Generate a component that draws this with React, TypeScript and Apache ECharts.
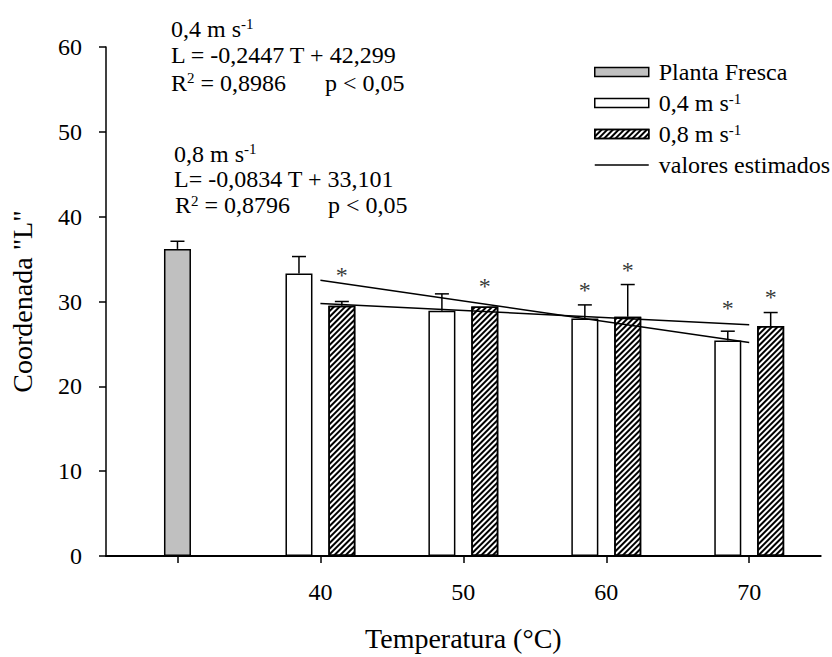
import React, { useEffect, useRef } from 'react';
import * as echarts from 'echarts';

// ---------- data ----------
const temperatures = [40, 50, 60, 70];
const freshTemperature = [30];
const freshValues = [36.2];
const freshErrors = [0.9];
const values04 = [33.3, 28.9, 28.0, 25.4];
const errors04 = [2.0, 2.0, 1.6, 1.1];
const values08 = [29.5, 29.4, 28.2, 27.1];
const errors08 = [0.5, 0, 3.8, 1.6];
const fitTemps = [40, 70];
const fit04 = [32.51, 25.17];
const fit08 = [29.77, 27.26];
const stars04 = [null, null, 31.8, 29.75];
const stars08 = [33.65, 32.3, 34.2, 31.05];
const xTickValues = [30, 40, 50, 60, 70];
const xLabelValues = [40, 50, 60, 70];

const NAME_FRESH = 'Planta Fresca';
const NAME_04 = '0,4 m s-1';
const NAME_08 = '0,8 m s-1';
const NAME_FIT = 'valores estimados';

const FONT = 'Liberation Serif';
const OFFSET = 1.5; // horizontal shift of the two air-speed bars around each temperature

export default function App() {
  const ref = useRef<HTMLDivElement>(null);

  useEffect(() => {
    document.body.style.margin = '0';
    if (!ref.current) return;
    const chart = echarts.init(ref.current, undefined, { renderer: 'svg' });

    const errData: any[] = [];
    freshTemperature.forEach((t, i) => errData.push([t, freshValues[i], freshErrors[i]]));
    temperatures.forEach((t, i) => errData.push([t - OFFSET, values04[i], errors04[i]]));
    temperatures.forEach((t, i) => errData.push([t + OFFSET, values08[i], errors08[i]]));

    const starData: any[] = [];
    temperatures.forEach((t, i) => {
      if (stars04[i] != null) starData.push([t - OFFSET, stars04[i]]);
      if (stars08[i] != null) starData.push([t + OFFSET, stars08[i]]);
    });

    const supRich = {
      supS: { fontSize: 15, lineHeight: 6, verticalAlign: 'top', fontFamily: FONT, color: '#000' },
      supR: { fontSize: 15, lineHeight: 16, verticalAlign: 'top', fontFamily: FONT, color: '#000' },
    };
    const annot = (x: number, y: number, text: string) => ({
      type: 'text',
      x,
      y,
      style: {
        text,
        rich: supRich,
        fontFamily: FONT,
        fontSize: 24,
        lineHeight: 24,
        fill: '#000',
        verticalAlign: 'middle',
        align: 'left',
      },
    });

    const option: any = {
      animation: false,
      backgroundColor: '#fff',
      textStyle: { fontFamily: FONT, color: '#000' },
      grid: { left: 104, right: 11.3, top: 47, bottom: 96.3, containLabel: false },
      legend: {
        orient: 'vertical',
        left: 589,
        top: 55,
        itemWidth: 54,
        itemHeight: 9,
        itemGap: 7,
        selectedMode: false,
        data: [
          { name: NAME_FRESH, icon: 'rect' },
          { name: NAME_04, icon: 'rect' },
          { name: NAME_08, icon: 'rect' },
          { name: NAME_FIT, itemStyle: { color: 'transparent', borderColor: 'transparent', borderWidth: 0, opacity: 0 } },
        ],
        itemStyle: { borderWidth: 1.5, borderColor: '#000' },
        lineStyle: { width: 1.5, color: '#000' },
        formatter: (name: string) => {
          if (name.endsWith(' s-1')) return '{gap|}' + name.slice(0, -2) + '{sup|-1}';
          return '{gap|}' + name;
        },
        textStyle: {
          fontFamily: FONT,
          fontSize: 24,
          lineHeight: 24,
          color: '#000',
          rich: {
            gap: { width: 5 },
            sup: { fontSize: 15, lineHeight: 16, verticalAlign: 'top', fontFamily: FONT, color: '#000' },
          },
        },
      },
      xAxis: {
        type: 'value',
        min: 25,
        max: 75,
        name: 'Temperatura (°C)',
        nameLocation: 'middle',
        nameGap: 68,
        nameTextStyle: { fontFamily: FONT, fontSize: 28, color: '#000' },
        axisLine: { show: true, lineStyle: { color: '#000', width: 2 } },
        axisTick: { show: true, inside: false, length: 7, customValues: xTickValues, lineStyle: { color: '#000', width: 1.5 } },
        axisLabel: { show: true, customValues: xLabelValues, margin: 24, fontFamily: FONT, fontSize: 24, color: '#000' },
        splitLine: { show: false },
      },
      yAxis: {
        type: 'value',
        min: 0,
        max: 60,
        interval: 10,
        name: 'Coordenada "L"',
        nameLocation: 'middle',
        nameGap: 70,
        nameTextStyle: { fontFamily: FONT, fontSize: 28, color: '#000' },
        axisLine: { show: true, lineStyle: { color: '#000', width: 1.5 } },
        axisTick: { show: true, inside: false, length: 7, lineStyle: { color: '#000', width: 1.5 } },
        axisLabel: { show: true, margin: 24, fontFamily: FONT, fontSize: 24, color: '#000' },
        splitLine: { show: false },
      },
      graphic: [
        annot(171, 28.6, '0,4 m s{supS|-1}'),
        annot(171, 54.6, 'L = -0,2447 T + 42,299'),
        annot(171, 82.6, 'R{supR|2} = 0,8986'),
        annot(325, 82.6, 'p < 0,05'),
        annot(174, 153.6, '0,8 m s{supS|-1}'),
        annot(174, 178.6, 'L= -0,0834 T + 33,101'),
        annot(175, 205, 'R{supR|2} = 0,8796'),
        annot(328, 205, 'p < 0,05'),
      ],
      series: [
        {
          type: 'bar',
          name: NAME_FRESH,
          barWidth: 27,
          barGap: '-100%',
          data: freshTemperature.map((t, i) => [t, freshValues[i]]),
          itemStyle: { color: '#c0c0c0', borderColor: '#000', borderWidth: 1.5 },
          z: 2,
        },
        {
          type: 'bar',
          name: NAME_04,
          barWidth: 27,
          barGap: '-100%',
          data: temperatures.map((t, i) => [t - OFFSET, values04[i]]),
          itemStyle: { color: '#fff', borderColor: '#000', borderWidth: 1.5 },
          z: 2,
        },
        {
          type: 'bar',
          name: NAME_08,
          barWidth: 27,
          barGap: '-100%',
          data: temperatures.map((t, i) => [t + OFFSET, values08[i]]),
          itemStyle: {
            color: '#fff',
            borderColor: '#000',
            borderWidth: 1.5,
            decal: {
              symbol: 'rect',
              symbolSize: 1,
              color: '#000',
              dashArrayX: [1, 0],
              dashArrayY: [1.3, 1.9],
              rotation: -Math.PI / 4,
            },
          },
          z: 2,
        },
        {
          type: 'custom',
          name: 'err',
          data: errData,
          encode: { x: 0, y: 1 },
          z: 3,
          renderItem: (params: any, api: any) => {
            const x = api.value(0);
            const v = api.value(1);
            const e = api.value(2);
            if (!e) return { type: 'group', children: [] };
            const b = api.coord([x, v]);
            const t = api.coord([x, v + e]);
            const st = { stroke: '#000', lineWidth: 1.5 };
            return {
              type: 'group',
              children: [
                { type: 'line', shape: { x1: b[0], y1: b[1], x2: t[0], y2: t[1] }, style: st },
                { type: 'line', shape: { x1: t[0] - 7, y1: t[1], x2: t[0] + 7, y2: t[1] }, style: st },
              ],
            };
          },
        },
        {
          type: 'line',
          name: NAME_FIT,
          data: fitTemps.map((t, i) => [t, fit04[i]]),
          symbol: 'none',
          lineStyle: { color: '#000', width: 1.5 },
          itemStyle: { color: '#000' },
          z: 4,
        },
        {
          type: 'line',
          name: NAME_FIT,
          data: fitTemps.map((t, i) => [t, fit08[i]]),
          symbol: 'none',
          lineStyle: { color: '#000', width: 1.5 },
          itemStyle: { color: '#000' },
          z: 4,
        },
        {
          type: 'scatter',
          name: 'sig',
          data: starData,
          symbolSize: 1,
          itemStyle: { color: 'transparent' },
          label: {
            show: true,
            formatter: '*',
            position: 'inside',
            offset: [0, 4],
            fontFamily: FONT,
            fontSize: 24,
            color: '#000',
          },
          z: 5,
        },
      ],
    };

    chart.setOption(option);
    return () => chart.dispose();
  }, []);

  return <div ref={ref} style={{ width: 832, height: 657 }} />;
}
